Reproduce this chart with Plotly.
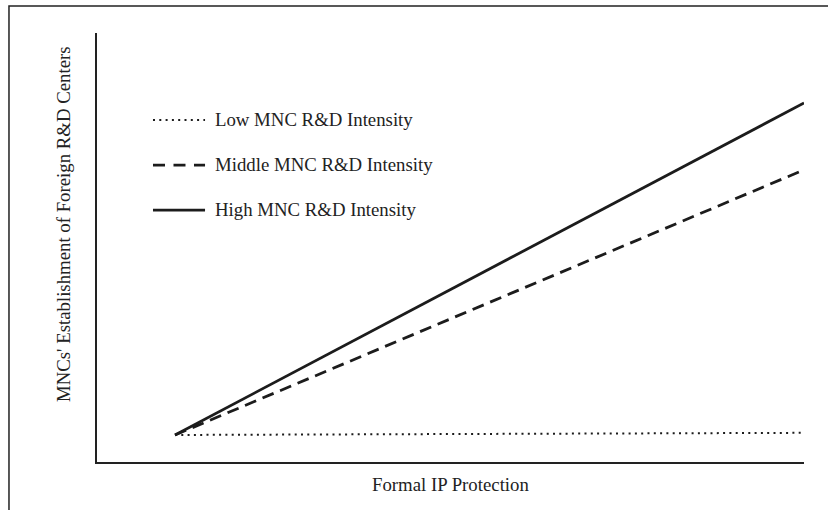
import plotly.graph_objects as go

# Data (arbitrary units)
formal_ip = [0, 1]
low_intensity = [0.63, 0.68]
middle_intensity = [0.63, 6.81]
high_intensity = [0.63, 8.37]

series_names = ["Low MNC R&D Intensity", "Middle MNC R&D Intensity", "High MNC R&D Intensity"]
series_values = [low_intensity, middle_intensity, high_intensity]
series_dash = ["2px,4.3px", "12px,7px", "solid"]
series_width = [2, 2.8, 2.8]
legend_dash = ["2px,4.3px", "12px,8.5px", "solid"]

x_title = "Formal IP Protection"
y_title = "MNCs' Establishment of Foreign R&D Centers"

INK = "#1c1c1c"
FONT = dict(family="Liberation Serif, Times New Roman, serif", size=18.8, color="#222222")

fig = go.Figure()
for name, vals, dash, w in zip(series_names, series_values, series_dash, series_width):
    fig.add_trace(go.Scatter(
        x=formal_ip, y=vals, mode="lines", name=name,
        line=dict(color=INK, width=w, dash=dash),
        showlegend=False, hoverinfo="skip",
    ))

# Custom legend (sample lines + labels) in paper coordinates
legend_y = [0.797, 0.692, 0.587]
shapes = []
annotations = []
for name, dash, w, ly in zip(series_names, legend_dash, series_width, legend_y):
    shapes.append(dict(type="line", xref="paper", yref="paper",
                       x0=0.0792, x1=0.1528, y0=ly, y1=ly,
                       line=dict(color=INK, width=w, dash=dash)))
    annotations.append(dict(text=name, xref="paper", yref="paper",
                            x=0.1641, y=ly + 0.002, xanchor="left", yanchor="middle",
                            showarrow=False, font=FONT))

# Outer frame (right and bottom edges fall outside the picture)
shapes.append(dict(type="rect", xref="paper", yref="paper",
                   x0=-0.1245, x1=1.2, y0=-0.3, y1=1.0629,
                   line=dict(color="#222222", width=1.5), layer="below"))

annotations.append(dict(text=x_title, xref="paper", yref="paper", x=0.5, y=-0.0513,
                        xanchor="center", yanchor="middle", showarrow=False, font=FONT))
annotations.append(dict(text=y_title, xref="paper", yref="paper", x=-0.0467, y=0.5548,
                        xanchor="center", yanchor="middle", textangle=-90,
                        showarrow=False, font=FONT))

fig.update_layout(
    width=828, height=510,
    margin=dict(l=97, r=24, t=33, b=48),
    paper_bgcolor="white", plot_bgcolor="white",
    shapes=shapes, annotations=annotations,
    showlegend=False,
)
axis_common = dict(showline=True, linecolor="#222222", linewidth=1.5,
                   showgrid=False, zeroline=False, showticklabels=False, ticks="")
fig.update_xaxes(range=[-0.124, 1], **axis_common)
fig.update_yaxes(range=[0, 10], **axis_common)

fig.write_html(
    "out.html",
    config={"displayModeBar": False},
    post_script="document.body.style.margin='0';document.body.style.overflow='hidden';",
)
